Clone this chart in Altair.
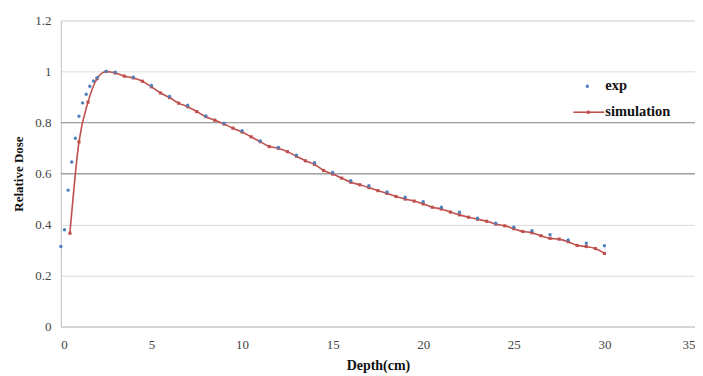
import altair as alt
import pandas as pd

# Experimental data (depth in cm, relative dose)
exp_depth = [0, 0.2, 0.4, 0.6, 0.8, 1.0, 1.2, 1.4, 1.6, 1.8, 2.0, 2.5,
             3, 4, 5, 6, 7, 8, 9, 10, 11, 12, 13, 14, 15, 16, 17, 18, 19, 20,
             21, 22, 23, 24, 25, 26, 27, 28, 29, 30]
exp_dose = [0.314, 0.38, 0.535, 0.645, 0.738, 0.825, 0.877, 0.911, 0.942, 0.963, 0.976, 1.0,
            0.997, 0.978, 0.945, 0.902, 0.868, 0.826, 0.797, 0.768, 0.728, 0.702, 0.672, 0.642,
            0.604, 0.572, 0.552, 0.528, 0.507, 0.49, 0.468, 0.448, 0.425, 0.405, 0.39, 0.376,
            0.36, 0.34, 0.327, 0.317]

# Simulation data
sim_depth = [0.5, 1.0, 1.5, 2.0, 2.5, 3.0, 3.5, 4.0, 4.5, 5.0, 5.5, 6.0, 6.5, 7.0, 7.5,
             8.0, 8.5, 9.0, 9.5, 10.0, 10.5, 11.0, 11.5, 12.0, 12.5, 13.0, 13.5, 14.0,
             14.5, 15.0, 15.5, 16.0, 16.5, 17.0, 17.5, 18.0, 18.5, 19.0, 19.5, 20.0,
             20.5, 21.0, 21.5, 22.0, 22.5, 23.0, 23.5, 24.0, 24.5, 25.0, 25.5, 26.0,
             26.5, 27.0, 27.5, 28.0, 28.5, 29.0, 29.5, 30.0]
sim_dose = [0.366, 0.724, 0.88, 0.972, 1.0, 0.994, 0.982, 0.975, 0.962, 0.940, 0.916, 0.898,
            0.876, 0.862, 0.843, 0.823, 0.809, 0.794, 0.778, 0.763, 0.744, 0.725, 0.706,
            0.699, 0.686, 0.668, 0.650, 0.636, 0.612, 0.598, 0.582, 0.566, 0.556, 0.545,
            0.533, 0.522, 0.510, 0.500, 0.492, 0.481, 0.468, 0.461, 0.449, 0.438, 0.429,
            0.421, 0.413, 0.402, 0.395, 0.384, 0.373, 0.368, 0.356, 0.346, 0.343, 0.333,
            0.318, 0.314, 0.306, 0.287]

x_ticks = [0, 5, 10, 15, 20, 25, 30, 35]
y_ticks = [0, 0.2, 0.4, 0.6, 0.8, 1.0, 1.2]
dark_grid = [0.6, 0.8]

BLUE = "#4F81BD"
RED = "#C0504D"
FONT = "Liberation Serif"

exp_df = pd.DataFrame({"depth": exp_depth, "dose": exp_dose})
sim_df = pd.DataFrame({"depth": sim_depth, "dose": sim_dose})

xscale = alt.Scale(domain=[0, 35], nice=False, zero=False)
yscale = alt.Scale(domain=[0, 1.2], nice=False)

xaxis = alt.Axis(values=x_ticks, title="Depth(cm)", grid=False, ticks=False,
                 labelFont=FONT, labelFontSize=13, labelColor="#444", labelPadding=12,
                 labelFlush=True,
                 titleFont=FONT, titleFontSize=14, titleFontWeight="bold", titleColor="#111",
                 titlePadding=7, domainColor="#c8c8c8")
yaxis = alt.Axis(values=y_ticks, title="Relative Dose", grid=True, gridColor="#dcdcdc",
                 ticks=False, labelFont=FONT, labelFontSize=13, labelColor="#444",
                 labelPadding=10, titleFont=FONT, titleFontSize=13, titleFontWeight="bold",
                 titleColor="#111", titlePadding=9, domainColor="#c8c8c8", labelFlush=False,
                 labelExpr="datum.value == 1 ? '1' : datum.value == 0 ? '0' : format(datum.value, '.1f')")

dark = alt.Chart(pd.DataFrame({"y": dark_grid})).mark_rule(color="#a0a0a0", strokeWidth=1.3).encode(
    y=alt.Y("y:Q", scale=yscale, axis=yaxis)
)

sim_line = alt.Chart(sim_df).mark_line(color=RED, strokeWidth=1.6, interpolate="monotone").encode(
    x=alt.X("depth:Q", scale=xscale, axis=xaxis),
    y=alt.Y("dose:Q", scale=yscale, axis=yaxis),
)
sim_pts = alt.Chart(sim_df).mark_point(shape="square", filled=True, color=RED, size=10, opacity=1).encode(
    x=alt.X("depth:Q", scale=xscale),
    y=alt.Y("dose:Q", scale=yscale),
)
exp_pts = alt.Chart(exp_df).mark_point(shape="circle", filled=True, color=BLUE, size=12, opacity=1).encode(
    x=alt.X("depth:Q", scale=xscale),
    y=alt.Y("dose:Q", scale=yscale),
)

# Manual legend (pixel positions within plot area)
leg_text = alt.Chart(pd.DataFrame({"t": ["exp", "simulation"], "py": [66, 92]})).mark_text(
    align="left", baseline="middle", font=FONT, fontSize=14.5, fontWeight="bold", color="#111"
).encode(x=alt.value(546), y=alt.Y("py:Q", scale=None), text="t:N")
leg_dot = alt.Chart(pd.DataFrame({"a": [0]})).mark_point(shape="circle", filled=True, color=BLUE, size=12, opacity=1).encode(
    x=alt.value(528), y=alt.value(66))
leg_line = alt.Chart(pd.DataFrame({"a": [0]})).mark_rule(color=RED, strokeWidth=1.6).encode(
    x=alt.value(514), x2=alt.value(545), y=alt.value(92))
leg_sq = alt.Chart(pd.DataFrame({"a": [0]})).mark_point(shape="square", filled=True, color=RED, size=10, opacity=1).encode(
    x=alt.value(529), y=alt.value(92))

chart = alt.layer(dark, sim_line, sim_pts, exp_pts, leg_line, leg_sq, leg_dot, leg_text).properties(
    width=636, height=307,
    autosize=alt.AutoSizeParams(type="none"),
    padding={"left": 53, "top": 12, "right": 0, "bottom": 49},
).configure_view(stroke="#c8c8c8", strokeWidth=1).configure(background="white")

chart.save("out.html", embed_options={"renderer": "svg", "actions": False})
